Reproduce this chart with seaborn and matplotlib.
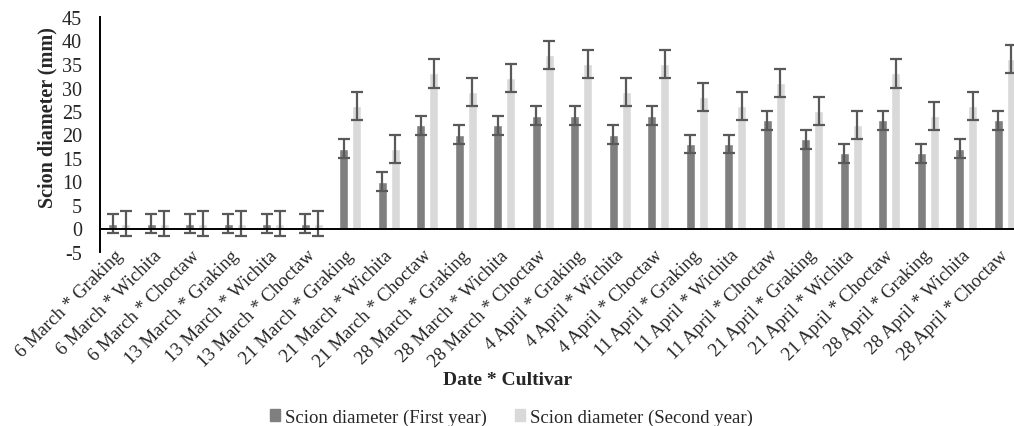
import pandas as pd
import seaborn as sns
import matplotlib.pyplot as plt
from matplotlib.patches import Patch
from matplotlib.transforms import ScaledTranslation

DATES = ["6 March", "13 March", "21 March", "28 March", "4 April", "11 April", "21 April", "28 April"]
CULTIVARS = ["Graking", "Wichita", "Choctaw"]
LABELS = [f"{d} * {c}" for d in DATES for c in CULTIVARS]

FIRST_YEAR = [1, 1, 1, 1, 1, 1, 17, 10, 22, 20, 22, 24,
              24, 20, 24, 18, 18, 23, 19, 16, 23, 16, 17, 23]
SECOND_YEAR = [1, 1, 1, 1, 1, 1, 26, 17, 33, 29, 32, 37,
               35, 29, 35, 28, 26, 31, 25, 22, 33, 24, 26, 36]
FIRST_ERR = [2] * 24
SECOND_ERR = [2.7] * 6 + [3] * 18

SERIES = ["Scion diameter (First year)", "Scion diameter (Second year)"]
COLORS = ["#7f7f7f", "#d9d9d9"]


def make_chart():
    df = pd.DataFrame({
        "label": LABELS * 2,
        "value": FIRST_YEAR + SECOND_YEAR,
        "series": [SERIES[0]] * 24 + [SERIES[1]] * 24,
    })

    sns.set_style("white")
    plt.rcParams["font.family"] = ["Liberation Serif", "DejaVu Serif"]
    plt.rcParams["axes.unicode_minus"] = False

    fig = plt.figure(figsize=(10.14, 4.27), dpi=100)
    # axes runs a bit past the right edge, like the original
    ax = fig.add_axes([100 / 1014, 1 - 253 / 427, 924 / 1014, 235 / 427])

    sns.barplot(data=df, x="label", y="value", hue="series", palette=COLORS,
                width=0.65, gap=0.28, errorbar=None, ax=ax, legend=False,
                saturation=1)

    for container, errs in zip(ax.containers, [FIRST_ERR, SECOND_ERR]):
        xs = [p.get_x() + p.get_width() / 2 for p in container.patches]
        ys = [p.get_height() for p in container.patches]
        ax.errorbar(xs, ys, yerr=errs, fmt="none", ecolor="#595959",
                    elinewidth=1.6, capsize=4, capthick=1.6)

    ax.set_ylim(-5, 45)
    ax.set_yticks(range(-5, 46, 5))
    ax.set_xlim(-0.5, 23.5)
    ax.axhline(0, color="black", lw=1.4, clip_on=False)
    for s in ["top", "right", "bottom"]:
        ax.spines[s].set_visible(False)
    ax.spines["left"].set_color("black")
    ax.spines["left"].set_linewidth(1.4)

    ax.tick_params(axis="y", length=0, labelsize=14.5, pad=13)
    ax.tick_params(axis="x", length=0, labelsize=13.5, pad=-4)
    shift = ScaledTranslation(-5 / 100, 0, fig.dpi_scale_trans)
    for lab in ax.get_xticklabels():
        lab.set_rotation(45)
        lab.set_ha("right")
        lab.set_rotation_mode("anchor")
        lab.set_transform(lab.get_transform() + shift)

    ax.set_ylabel("")
    ax.set_xlabel("")
    fig.text(47 / 1014, 1 - 118 / 427, "Scion diameter (mm)", rotation=90,
             ha="center", va="center", fontsize=14.5, fontweight="bold")
    fig.text(508 / 1014, 1 - 381 / 427, "Date * Cultivar",
             ha="center", va="center", fontsize=14, fontweight="bold")

    handles = [Patch(color=c, label=s) for c, s in zip(COLORS, SERIES)]
    fig.legend(handles=handles, loc="center", ncol=2, frameon=False,
               fontsize=13.5, handlelength=0.55, handleheight=0.55,
               handletextpad=0.25, columnspacing=1.5,
               bbox_to_anchor=(511 / 1014, 1 - 418 / 427))

    fig.savefig("out.png", dpi=100)


if __name__ == "__main__":
    make_chart()
